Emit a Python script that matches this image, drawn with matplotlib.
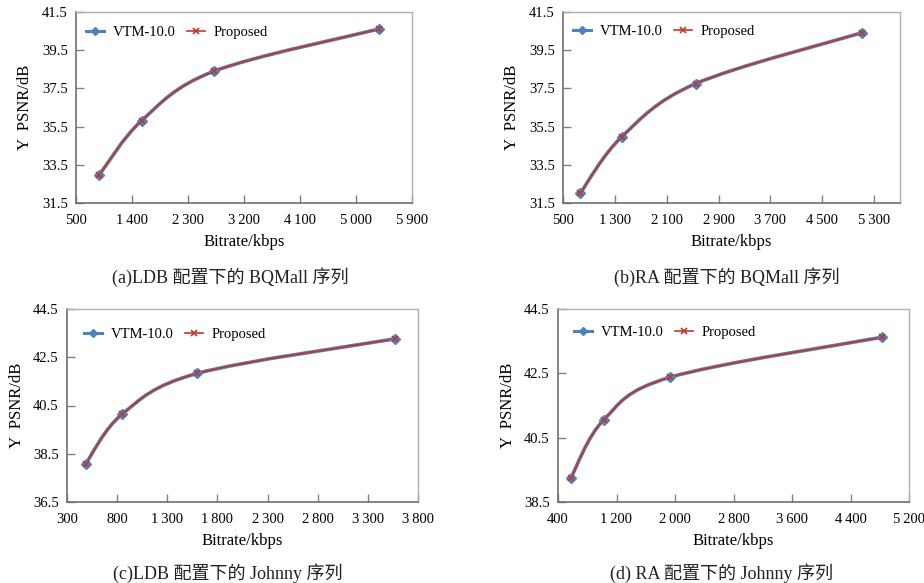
import matplotlib.pyplot as plt
import numpy as np
from matplotlib.path import Path
from matplotlib.patches import PathPatch
from matplotlib.lines import Line2D

plt.rcParams['font.family'] = ['Liberation Serif', 'Noto Sans CJK SC', 'DejaVu Sans']

# data
bitrate_a = [875, 1554, 2710, 5370]
vtm_a = [32.98, 35.81, 38.39, 40.61]
prop_a = [32.98, 35.81, 38.39, 40.61]

bitrate_b = [767, 1405, 2548, 5120]
vtm_b = [32.02, 34.96, 37.75, 40.42]
prop_b = [32.02, 34.96, 37.75, 40.42]

bitrate_c = [486, 852, 1599, 3567]
vtm_c = [38.08, 40.15, 41.83, 43.26]
prop_c = [38.08, 40.15, 41.83, 43.26]

bitrate_d = [578, 1024, 1936, 4826]
vtm_d = [39.26, 41.05, 42.38, 43.62]
prop_d = [39.26, 41.05, 42.38, 43.62]

xticks_a = [500, 1400, 2300, 3200, 4100, 5000, 5900]
xticks_b = [500, 1300, 2100, 2900, 3700, 4500, 5300]
xticks_c = [300, 800, 1300, 1800, 2300, 2800, 3300, 3800]
xticks_d = [400, 1200, 2000, 2800, 3600, 4400, 5200]
xmax = [5900, 5700, 3800, 5200]
yticks_ab = [31.5, 33.5, 35.5, 37.5, 39.5, 41.5]
yticks_c = [36.5, 38.5, 40.5, 42.5, 44.5]
yticks_d = [38.5, 40.5, 42.5, 44.5]

captions = ["(a)LDB 配置下的 BQMall 序列", "(b)RA 配置下的 BQMall 序列",
            "(c)LDB 配置下的 Johnny 序列", "(d) RA 配置下的 Johnny 序列"]

BLUE = "#4f81bd"
RED = "#c0392b"


def smooth_path(ax, xs, ys, color, lw):
    # Excel-style smoothed line: cubic bezier with Catmull-Rom tangents,
    # computed in display space so the shape matches the axes scaling
    pts = ax.transData.transform(np.column_stack([xs, ys]))
    n = len(pts)
    verts = [pts[0]]
    codes = [Path.MOVETO]
    for i in range(n - 1):
        p0 = pts[i - 1] if i > 0 else pts[i]
        p1 = pts[i]
        p2 = pts[i + 1]
        p3 = pts[i + 2] if i + 2 < n else pts[i + 1]
        c1 = p1 + (p2 - p0) / 6
        c2 = p2 - (p3 - p1) / 6
        verts += [c1, c2, p2]
        codes += [Path.CURVE4] * 3
    patch = PathPatch(Path(verts, codes), facecolor="none", edgecolor=color,
                      lw=lw, transform=None, zorder=2)
    ax.add_artist(patch)


def fmt(v):
    if v >= 1000:
        return f"{int(v):,}".replace(",", "\u2009")
    return f"{v:g}"


fig = plt.figure(figsize=(9.24, 5.83), dpi=100)
W, H = 924, 583
boxes = [(76, 12, 412, 203), (563, 12, 900, 203),
         (67, 309, 418, 502), (558, 309, 909, 502)]
panels = [
    (bitrate_a, vtm_a, prop_a, xticks_a, yticks_ab),
    (bitrate_b, vtm_b, prop_b, xticks_b, yticks_ab),
    (bitrate_c, vtm_c, prop_c, xticks_c, yticks_c),
    (bitrate_d, vtm_d, prop_d, xticks_d, yticks_d),
]
cap_pos = [(230, 277), (727, 277), (228, 573), (722, 573)]
# legend anchor (offset in px from axes top-left)
leg_off = [(0, 1), (0, 0), (7, 6), (6, 4)]

axes = []
for (l, t, r, b), (x, v, p, xt, yt), xm in zip(boxes, panels, xmax):
    ax = fig.add_axes([l / W, 1 - b / H, (r - l) / W, (b - t) / H])
    ax.set_xlim(xt[0], xm)
    ax.set_ylim(yt[0], yt[-1])
    ax.set_xticks(xt)
    ax.set_xticklabels([fmt(k) for k in xt], fontsize=10.5)
    ax.set_yticks(yt)
    ax.set_yticklabels([fmt(k) for k in yt], fontsize=10.5)
    ax.tick_params(direction="in", length=6, width=1, color="#808080")
    ax.tick_params(axis="x", pad=8)
    ax.tick_params(axis="y", pad=6)
    for s in ["left", "bottom"]:
        ax.spines[s].set_color("#707070")
        ax.spines[s].set_linewidth(1.2)
    for s in ["top", "right"]:
        ax.spines[s].set_color("#b0b0b0")
        ax.spines[s].set_linewidth(1.0)
    ax.plot(x, v, color=BLUE, marker="D", ms=5, ls="none", zorder=3)
    ax.plot(x, p, color=RED, marker="x", ms=4.5, mew=1.2, ls="none", zorder=4)
    ax.set_xlabel("Bitrate/kbps", fontsize=12, labelpad=5)
    ax.set_ylabel("Y  PSNR/dB", fontsize=12, labelpad=6)
    axes.append(ax)

# legend handles that show line + marker
h1 = Line2D([], [], color=BLUE, lw=2.2, marker="D", ms=4)
h2 = Line2D([], [], color=RED, lw=1.2, marker="x", ms=4, mew=1.2)
for ax, (l, t, r, b), (dx, dy) in zip(axes, boxes, leg_off):
    ax.legend([h1, h2], ["VTM-10.0", "Proposed"], loc="upper left", ncol=2,
              frameon=False, fontsize=10.5, handlelength=1.2, handletextpad=0.6,
              columnspacing=0.8, borderaxespad=0.3,
              bbox_to_anchor=(dx / (r - l), 0.985 - dy / (b - t)))

fig.canvas.draw()
for ax, (x, v, p, xt, yt) in zip(axes, panels):
    smooth_path(ax, x, v, BLUE, 2.6)
    smooth_path(ax, x, p, RED, 1.3)

for (cx, cy), c in zip(cap_pos, captions):
    fig.text(cx / W, 1 - cy / H, c, ha="center", va="center", fontsize=13,
             color="#222222")

fig.savefig("out.png", dpi=100)
